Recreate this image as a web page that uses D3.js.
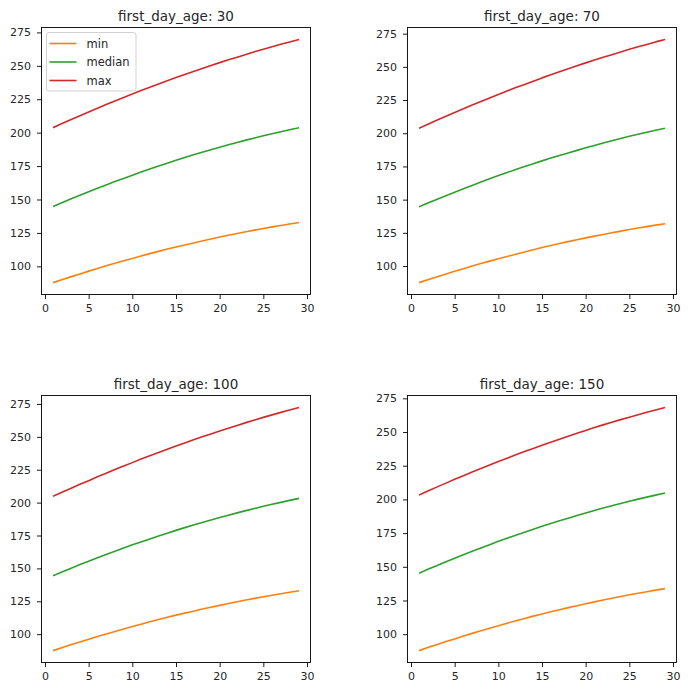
<!DOCTYPE html>
<html>
<head>
<meta charset="utf-8">
<script src="https://cdn.jsdelivr.net/npm/d3@7/dist/d3.min.js"></script>
<style>
  html, body { margin: 0; padding: 0; background: #fff; }
  svg { display: block; font-family: "DejaVu Sans", sans-serif; }
</style>
</head>
<body>
<svg id="chart" width="688" height="691"></svg>
<script>
// ---------- data ----------
const days = [1,2,3,4,5,6,7,8,9,10,11,12,13,14,15,16,17,18,19,20,21,22,23,24,25,26,27,28,29];
const panelAges = [30, 70, 100, 150];
const seriesNames = ["min", "median", "max"];
const seriesColors = ["#ff7f0e", "#2ca02c", "#d62728"];
const xTicks = [0, 5, 10, 15, 20, 25, 30];
const yTicks = [100, 125, 150, 175, 200, 225, 250, 275];

// first_day_age: 30
const min30 = [88.0,90.2,92.3,94.3,96.4,98.4,100.4,102.3,104.1,105.9,107.7,109.5,111.2,112.9,114.5,116.0,117.5,119.0,120.5,121.9,123.3,124.6,125.9,127.1,128.3,129.5,130.6,131.7,132.7];
const median30 = [145.0,147.8,150.5,153.2,155.8,158.4,160.9,163.4,165.8,168.2,170.5,172.8,175.0,177.2,179.3,181.4,183.4,185.3,187.2,189.1,190.9,192.7,194.4,196.0,197.7,199.2,200.7,202.2,203.6];
const max30 = [204.0,207.0,209.9,212.7,215.5,218.3,221.0,223.7,226.3,228.9,231.5,234.0,236.4,238.8,241.2,243.5,245.8,248.0,250.2,252.4,254.5,256.5,258.5,260.5,262.4,264.3,266.1,267.9,269.6];

// first_day_age: 70
const min70 = [87.7,89.9,92.0,94.0,96.0,98.0,100.0,101.9,103.7,105.5,107.2,108.9,110.6,112.3,113.9,115.4,116.9,118.4,119.8,121.2,122.5,123.8,125.1,126.3,127.5,128.6,129.7,130.8,131.8];
const median70 = [144.8,147.6,150.3,153.0,155.6,158.2,160.7,163.3,165.7,168.1,170.4,172.7,174.9,177.1,179.2,181.3,183.3,185.2,187.1,189.0,190.8,192.6,194.4,196.0,197.7,199.2,200.7,202.2,203.6];
const max70 = [204.0,207.0,210.0,212.8,215.6,218.5,221.2,223.9,226.6,229.2,231.8,234.4,236.8,239.2,241.7,244.0,246.3,248.5,250.8,253.0,255.1,257.2,259.2,261.2,263.2,265.1,266.9,268.8,270.5];

// first_day_age: 100
const min100 = [87.7,89.9,92.1,94.1,96.1,98.2,100.2,102.1,104.0,105.8,107.6,109.4,111.1,112.8,114.5,116.0,117.5,119.1,120.5,121.9,123.3,124.7,126.0,127.2,128.5,129.6,130.7,131.9,132.9];
const median100 = [144.7,147.5,150.2,152.9,155.5,158.1,160.6,163.1,165.5,167.9,170.1,172.4,174.6,176.8,178.9,181.0,183.0,184.9,186.8,188.7,190.4,192.2,193.9,195.5,197.2,198.7,200.2,201.7,203.1];
const max100 = [205.0,208.1,211.0,213.9,216.7,219.6,222.3,225.1,227.8,230.4,233.1,235.6,238.1,240.5,243.0,245.4,247.7,250.0,252.2,254.5,256.6,258.7,260.8,262.8,264.8,266.7,268.6,270.4,272.2];

// first_day_age: 150
const min150 = [88.0,90.3,92.4,94.5,96.5,98.6,100.6,102.6,104.4,106.3,108.1,109.9,111.6,113.4,115.0,116.6,118.1,119.7,121.1,122.6,124.0,125.4,126.7,128.0,129.2,130.4,131.5,132.7,133.7];
const median150 = [145.5,148.3,151.0,153.8,156.4,159.0,161.5,164.0,166.4,168.9,171.2,173.5,175.7,177.9,180.1,182.2,184.2,186.1,188.0,189.9,191.8,193.6,195.3,196.9,198.6,200.2,201.7,203.2,204.6];
const max150 = [203.5,206.5,209.3,212.1,214.9,217.6,220.3,223.0,225.5,228.1,230.6,233.1,235.5,237.8,240.2,242.5,244.7,246.9,249.1,251.2,253.3,255.3,257.2,259.2,261.0,262.9,264.7,266.4,268.1];

const panelSeries = [
  [min30, median30, max30],
  [min70, median70, max70],
  [min100, median100, max100],
  [min150, median150, max150]
];

// ---------- layout ----------
const svg = d3.select("#chart");
const colLeft = [41.5, 407.5];
const rowTop = [27.5, 395.5];
const W = 269, H = 267;

function padDomain(lo, hi) {
  const m = (hi - lo) * 0.05;
  return [lo - m, hi + m];
}

panelAges.forEach((age, p) => {
  const left = colLeft[p % 2];
  const top = rowTop[Math.floor(p / 2)];
  const series = panelSeries[p];
  const g = svg.append("g").attr("transform", `translate(${left},${top})`);

  const x = d3.scaleLinear()
    .domain(padDomain(d3.min(days), d3.max(days)))
    .range([0, W]);
  const allVals = series.flat();
  const y = d3.scaleLinear()
    .domain(padDomain(d3.min(allVals), d3.max(allVals)))
    .range([H, 0]);

  // lines
  series.forEach((vals, s) => {
    const line = d3.line()
      .x((d, i) => x(days[i]))
      .y(d => y(d));
    g.append("path")
      .datum(vals)
      .attr("fill", "none")
      .attr("stroke", seriesColors[s])
      .attr("stroke-width", 1.6)
      .attr("stroke-linejoin", "round")
      .attr("stroke-linecap", "square")
      .attr("d", line);
  });

  // axes
  const xAxis = d3.axisBottom(x).tickValues(xTicks).tickFormat(d3.format("d"))
    .tickSize(4.5).tickPadding(5).tickSizeOuter(0);
  const yAxis = d3.axisLeft(y).tickValues(yTicks).tickFormat(d3.format("d"))
    .tickSize(4.5).tickPadding(6).tickSizeOuter(0);

  const gx = g.append("g").attr("transform", `translate(0,${H})`).call(xAxis);
  const gy = g.append("g").call(yAxis);
  [gx, gy].forEach(a => {
    a.select(".domain").remove();
    a.selectAll(".tick line").attr("stroke", "#000").attr("stroke-width", 0.9);
    a.selectAll(".tick text").attr("fill", "#262626")
      .style("font-family", "'DejaVu Sans', sans-serif").style("font-size", "11px");
  });

  // spines
  g.append("rect")
    .attr("x", 0).attr("y", 0).attr("width", W).attr("height", H)
    .attr("fill", "none").attr("stroke", "#000").attr("stroke-width", 0.9);

  // title
  g.append("text")
    .attr("x", W / 2).attr("y", -7)
    .attr("text-anchor", "middle")
    .attr("fill", "#262626")
    .style("font-size", "13.5px")
    .text(`first_day_age: ${age}`);

  // legend (first panel only)
  if (p === 0) {
    const lg = g.append("g").attr("transform", "translate(5,5)");
    lg.append("rect")
      .attr("x", 0).attr("y", 0).attr("width", 89.5).attr("height", 58.5)
      .attr("rx", 2.5).attr("ry", 2.5)
      .attr("fill", "#fff").attr("fill-opacity", 0.8)
      .attr("stroke", "#cccccc").attr("stroke-width", 0.9);
    seriesNames.forEach((name, s) => {
      const cy = 11 + s * 18.5;
      lg.append("line")
        .attr("x1", 3).attr("x2", 30).attr("y1", cy).attr("y2", cy)
        .attr("stroke", seriesColors[s]).attr("stroke-width", 1.6);
      lg.append("text")
        .attr("x", 40).attr("y", cy).attr("dy", "0.35em")
        .attr("fill", "#262626")
        .style("font-size", "11.5px")
        .text(name);
    });
  }
});
</script>
</body>
</html>
